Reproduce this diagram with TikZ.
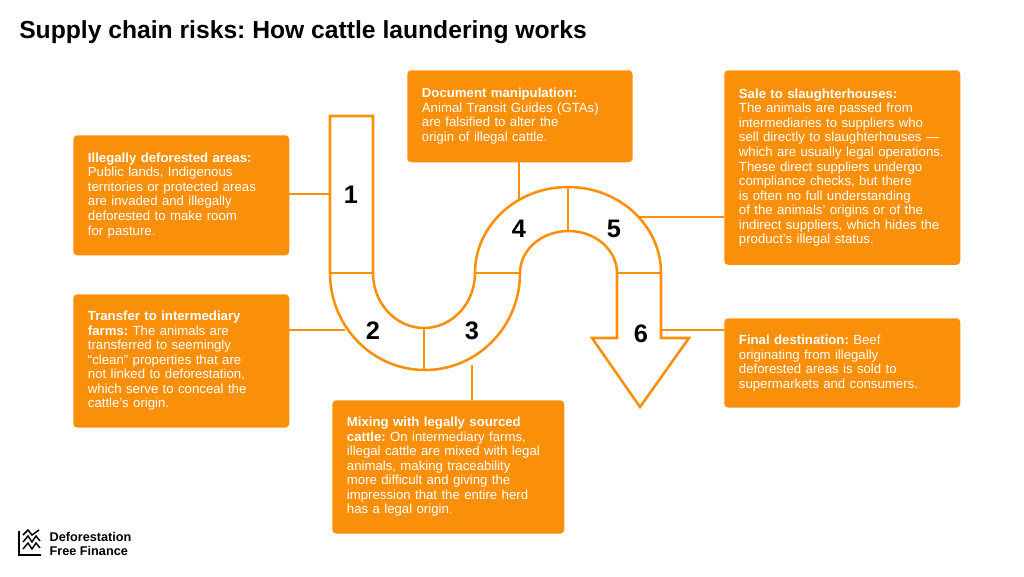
\documentclass[tikz,border=0pt]{standalone}
\usepackage{fontspec}
\setmainfont{Liberation Sans}
\frenchspacing
\definecolor{dffOrange}{RGB}{250,143,10}
\tikzset{
  box/.style={fill=dffOrange, rounded corners=3pt, anchor=north west, text=white,
    inner xsep=11pt, inner ysep=8pt, align=left, font=\fontsize{9.9}{10.9}\selectfont},
  band/.style={draw=dffOrange, line width=1.9pt, fill=white},
  lead/.style={draw=dffOrange, line width=1.5pt},
  stepnum/.style={font=\fontsize{19}{19}\selectfont\bfseries, text=black}
}
\begin{document}
\begin{tikzpicture}[x=0.75pt,y=-0.75pt]
    \useasboundingbox (0,0) rectangle (1024,576);

    % title
    \node[anchor=west, inner sep=0pt, font=\fontsize{18.5}{18.5}\selectfont\bfseries] (title) at (19,32) {Supply chain risks: How cattle laundering works};

    % leader lines
    \coordinate (p1) at (330,194);
    \coordinate (p2) at (345,330);
    \coordinate (p3) at (472,365);
    \coordinate (p4) at (519,200);
    \coordinate (p5) at (636,217);
    \coordinate (p6) at (661,330);
    \draw[lead] (289,194) -- (p1);
    \draw[lead] (289,330) -- (p2);
    \draw[lead] (472,400) -- (p3);
    \draw[lead] (519,162) -- (p4);
    \draw[lead] (724,217) -- (p5);
    \draw[lead] (724,330) -- (p6);

    % the snake
    \draw[band] (330,116) -- (373,116) -- (373,273)
      arc[start angle=180, end angle=0, x radius=51, y radius=55]
      arc[start angle=180, end angle=360, x radius=93, y radius=86]
      -- (661,338) -- (689,338) -- (640,407) -- (592,338) -- (617,338) -- (617,273)
      arc[start angle=0, end angle=-180, x radius=48.5, y radius=42]
      arc[start angle=0, end angle=180, x radius=95, y radius=97]
      -- cycle;
    \draw[band] (330,273) -- (373,273);
    \draw[band] (424,328) -- (424,370);
    \draw[band] (475,273) -- (520,273);
    \draw[band] (568,187) -- (568,231);
    \draw[band] (617,273) -- (661,273);

    % step numbers
    \node[stepnum] (s1) at (351,195) {1};
    \node[stepnum] (s2) at (373,331) {2};
    \node[stepnum] (s3) at (472,331) {3};
    \node[stepnum] (s4) at (519,229) {4};
    \node[stepnum] (s5) at (614,229) {5};
    \node[stepnum] (s6) at (641,334) {6};

    % text boxes
    \node[box, text width=140pt, minimum height=90pt] (b1) at (73,135)
      {\textbf{Illegally deforested areas:}\\Public lands, Indigenous\\territories or protected areas\\are invaded and illegally\\deforested to make room\\for pasture.};
    \node[box, text width=140pt, minimum height=100pt] (b2) at (73,294)
      {\textbf{Transfer to intermediary}\\\textbf{farms:} The animals are\\transferred to seemingly\\“clean” properties that are\\not linked to deforestation,\\which serve to conceal the\\cattle’s origin.};
    \node[box, text width=152pt, minimum height=100pt] (b3) at (332,400)
      {\textbf{Mixing with legally sourced}\\\textbf{cattle:} On intermediary farms,\\illegal cattle are mixed with legal\\animals, making traceability\\more difficult and giving the\\impression that the entire herd\\has a legal origin.};
    \node[box, text width=147pt, minimum height=69pt] (b4) at (407,70)
      {\textbf{Document manipulation:}\\Animal Transit Guides (GTAs)\\are falsified to alter the\\origin of illegal cattle.};
    \node[box, text width=155pt, minimum height=146pt] (b5) at (724,70)
      {\textbf{Sale to slaughterhouses:}\\The animals are passed from\\intermediaries to suppliers who\\sell directly to slaughterhouses —\\which are usually legal operations.\\These direct suppliers undergo\\compliance checks, but there\\is often no full understanding\\of the animals’ origins or of the\\indirect suppliers, which hides the\\product’s illegal status.};
    \node[box, text width=155pt, minimum height=67pt] (b6) at (724,318)
      {\textbf{Final destination:} Beef\\originating from illegally\\deforested areas is sold to\\supermarkets and consumers.};

    % logo
    \draw[line width=1.2pt] (19,531) -- (19,555) -- (41,555);
    \draw[line width=1.1pt] (23,542) -- (28,536) -- (32,542) -- (36,536) -- (40,541);
    \draw[line width=1.1pt] (23,549) -- (28,543) -- (32,549) -- (36,543) -- (40,548);
    \draw[line width=1.1pt] (23,535) -- (28,530) -- (32,535) -- (39,530);
    \node[anchor=west, align=left, font=\fontsize{9.5}{10.5}\selectfont\bfseries] (logo) at (45,544)
      {Deforestation\\Free Finance};
\end{tikzpicture}
\end{document}
